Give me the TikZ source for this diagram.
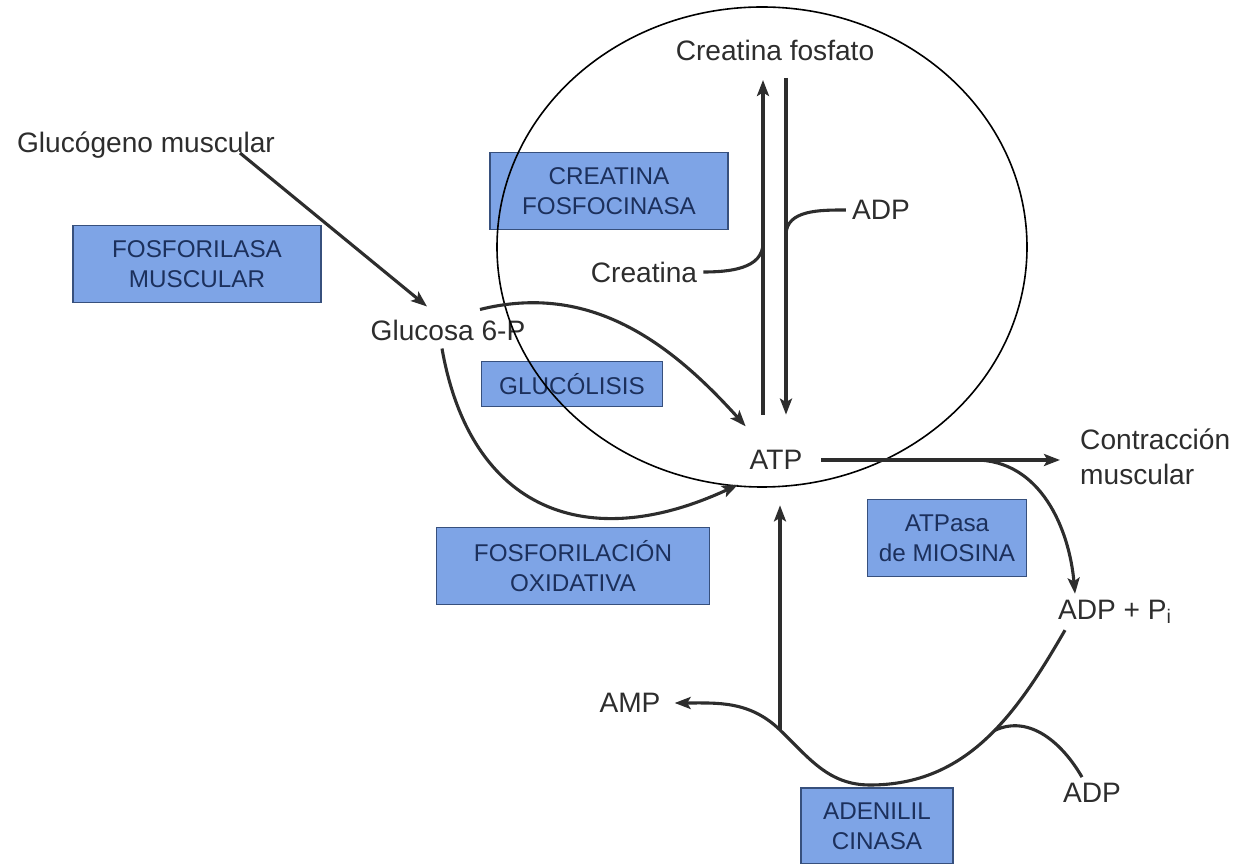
\documentclass[tikz,border=0pt]{standalone}
\usepackage{fontspec}
\setmainfont{Liberation Sans}
\usepackage{tikz}
\usetikzlibrary{arrows.meta}
\usetikzlibrary{calc,positioning}

\definecolor{tinta}{RGB}{45,45,45}
\definecolor{enzfill}{RGB}{126,164,230}
\definecolor{enzline}{RGB}{55,80,125}
\definecolor{enztext}{RGB}{28,48,92}

\tikzset{
  etiq/.style={text=tinta,font=\fontsize{16}{20}\selectfont},
  enzima/.style={draw=enzline,line width=0.03cm,fill=enzfill,text=enztext,
    font=\fontsize{13.8}{17}\selectfont,align=center,inner sep=0pt},
  flecha/.style={draw=tinta,line width=\heavy,
    -{Stealth[length=0.32cm,width=0.24cm,inset=0.07cm]}},
  linea/.style={draw=tinta,line width=\heavy},
}

\begin{document}
\begin{tikzpicture}[x=0.02cm,y=0.02cm]

\def \px{0.02cm}
\def \heavy{0.062cm}
\def \light{0.032cm}

\useasboundingbox (0,0) rectangle (1242,-864);

% enzimas
\node[enzima,minimum width=248*\px,minimum height=77*\px] (fosforilasa) at (197,-264) {FOSFORILASA\\MUSCULAR};
\node[enzima,minimum width=238*\px,minimum height=77*\px] (fosfocinasa) at (609,-191) {CREATINA\\FOSFOCINASA};
\node[enzima,minimum width=181*\px,minimum height=45*\px] (glucolisis) at (572,-384) {GLUCÓLISIS};
\node[enzima,minimum width=273*\px,minimum height=77*\px] (oxidativa) at (573,-566) {FOSFORILACIÓN\\OXIDATIVA};
\node[enzima,minimum width=159*\px,minimum height=77*\px] (miosina) at (947,-538) {ATPasa\\de MIOSINA};
\node[enzima,minimum width=152*\px,minimum height=76*\px] (adenilil) at (877,-826) {ADENILIL\\CINASA};

% metabolitos
\node[etiq] (glucogeno) at (146,-145) {Glucógeno muscular};
\node[etiq] (creatfosf) at (775,-50) {Creatina fosfato};
\node[etiq] (glucosa) at (448,-330) {Glucosa 6-P};
\node[etiq] (creatina) at (644,-272) {Creatina};
\node[etiq] (adpa) at (881,-210) {ADP};
\node[etiq,circle,minimum size=90*\px,inner sep=0pt] (atp) at (776,-460) {ATP};
\node[etiq,align=left,anchor=west] (contraccion) at (1074,-457) {Contracción\\muscular};
\node[etiq] (adppi) at (1115,-612) {ADP + P\textsubscript{i}};
\node[etiq] (amp) at (630,-703) {AMP};
\node[etiq] (adpb) at (1092,-793) {ADP};

\coordinate (gmu) at (240,-153);
\coordinate (cfup) at (763,-80);
\coordinate (cfdn) at (786,-78);
\coordinate (crj) at (763,-243);
\coordinate (adj) at (786,-235);
\coordinate (mj) at (975,-460);
\coordinate (akb) at (870,-785);
\coordinate (ak) at (780,-730);

\draw[line width=\light] (762,-247) ellipse [x radius=265*\px,y radius=240*\px];

\draw[flecha] (gmu) -- ([shift={(-21,7)}]glucosa.north);
\draw[flecha] ([shift={(32,4)}]glucosa.north) to[out=14,in=132] (atp.132);
\draw[flecha] ([shift={(-6,-2)}]glucosa.south) to[out=-80,in=205,looseness=1.3] (atp.213);

\draw[flecha] (atp.north -| cfup) -- (cfup);
\draw[flecha] (cfdn) -- (cfdn |- atp.north);
\draw[linea] (creatina.east) to[out=0,in=-90] (crj);
\draw[linea] (adpa.west) to[out=180,in=90] (adj);

\draw[flecha,shorten >=14*\px] (atp.east) -- (atp.east -| contraccion.west);
\draw[flecha] (mj) to[out=0,in=95] ([xshift=-40*\px]adppi.north);

\draw[flecha] ([xshift=-50*\px]adppi.south) to[out=240,in=0] coordinate[pos=0.45] (adk) (akb)
  to[out=180,in=-44] (ak) to[out=136,in=0] ([xshift=8*\px]amp.east);
\draw[linea] (adk) to[out=25,in=120] ([xshift=-10*\px]adpb.north);
\draw[flecha] (ak) -- (ak |- atp.south);

\end{tikzpicture}
\end{document}
